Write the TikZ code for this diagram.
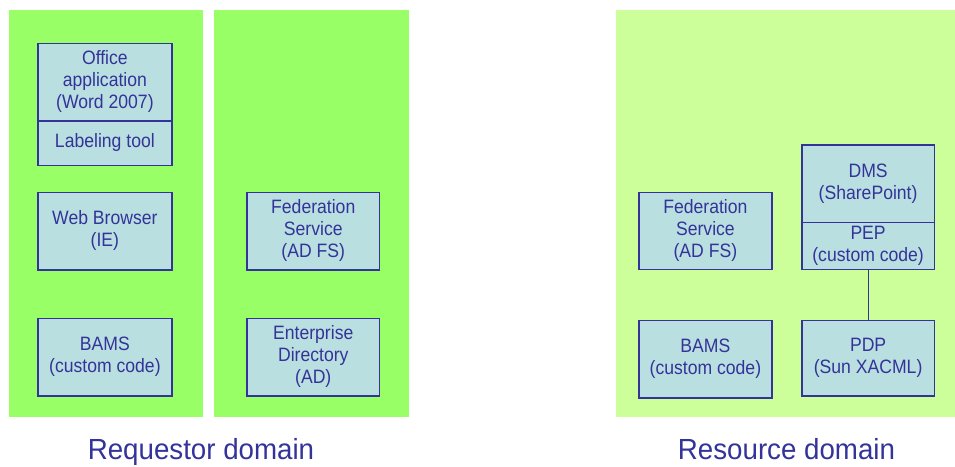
\documentclass[tikz,border=0pt]{standalone}
\usepackage{fontspec}
\setmainfont{Liberation Sans}
\definecolor{brightgreen}{HTML}{99FF66}
\definecolor{lightgreen}{HTML}{CCFF99}
\definecolor{boxfill}{HTML}{BADFE0}
\definecolor{navy}{HTML}{333399}
\newcommand{\btxt}[1]{\scalebox{1}[1.1]{\begin{tabular}{@{}c@{}}#1\end{tabular}}}
\tikzset{
  panel/.style={fill=#1, draw=none, inner sep=0pt, anchor=north west},
  compbox/.style={fill=boxfill, draw=navy, line width=1.2pt, inner sep=0pt, text=navy,
    font=\fontsize{17.6}{20}\selectfont, anchor=north west},
  domainlabel/.style={text=navy, font=\fontsize{27.7}{30}\selectfont, inner sep=0pt, anchor=base},
  link/.style={draw=navy, line width=1.2pt}
}
\begin{document}
\begin{tikzpicture}[x=1pt,y=-1pt]
\useasboundingbox (0,0) rectangle (955,466);
% panels
\node[panel=brightgreen, minimum width=194pt, minimum height=407pt] (p1) at (9,10) {};
\node[panel=brightgreen, minimum width=195pt, minimum height=407pt] (p2) at (214,10) {};
\node[panel=lightgreen, minimum width=339pt, minimum height=407pt] (p3) at (616,10) {};
% requestor left column
\node[compbox, minimum width=134pt, minimum height=77.6pt] (office) at (37.3,42.7) {\btxt{Office\\application\\(Word 2007)}};
\node[compbox, minimum width=134pt, minimum height=44.7pt] (label) at (37.3,120.3) {\btxt{Labeling tool}};
\node[compbox, minimum width=134pt, minimum height=77.6pt] (web) at (37.3,191.7) {\btxt{Web Browser\\(IE)}};
\node[compbox, minimum width=134pt, minimum height=77.6pt] (bams1) at (37.3,317.7) {\btxt{BAMS\\(custom code)}};
% requestor right column
\node[compbox, minimum width=132.7pt, minimum height=77.6pt] (fed1) at (246.3,191.7) {\btxt{Federation\\Service\\(AD FS)}};
\node[compbox, minimum width=132.7pt, minimum height=77.6pt] (ent) at (246.3,317.7) {\btxt{Enterprise\\Directory\\(AD)}};
% resource domain
\node[compbox, minimum width=133pt, minimum height=77.3pt] (fed2) at (638.3,191.7) {\btxt{Federation\\Service\\(AD FS)}};
\node[compbox, minimum width=133pt, minimum height=77.3pt] (bams2) at (638.3,320) {\btxt{BAMS\\(custom code)}};
\node[compbox, minimum width=132.4pt, minimum height=77.7pt] (dms) at (801.3,144.3) {\btxt{DMS\\(SharePoint)}};
\node[compbox, minimum width=132.4pt, minimum height=47pt] (pep) at (801.3,222) {\btxt{PEP\\(custom code)}};
\node[compbox, minimum width=132.4pt, minimum height=75.3pt] (pdp) at (801.3,320) {\btxt{PDP\\(Sun XACML)}};
\draw[link] (pep.south) -- (pdp.north);
% domain labels
\node[domainlabel] (req) at (201,459.5) {\scalebox{1}[1.05]{Requestor domain}};
\node[domainlabel] (res) at (786.5,459.5) {\scalebox{1}[1.05]{Resource domain}};
\end{tikzpicture}
\end{document}
